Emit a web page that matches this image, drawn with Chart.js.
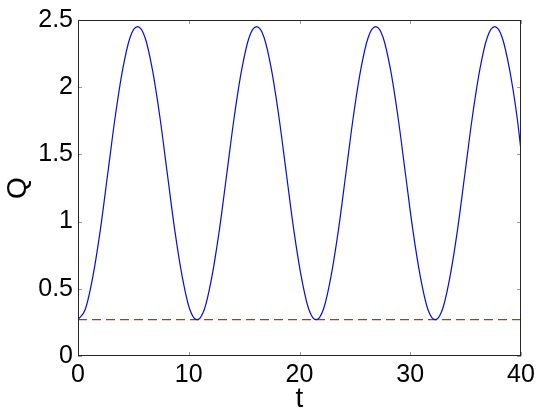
<!DOCTYPE html>
<html>
<head>
<meta charset="utf-8">
<script src="https://cdn.jsdelivr.net/npm/chart.js@4.4.1/dist/chart.umd.min.js"></script>
<style>
  html, body { margin: 0; padding: 0; background: #fff; }
  #wrap { width: 539px; height: 418px; }
</style>
</head>
<body>
<div id="wrap"><canvas id="qChart" width="539" height="418"></canvas></div>
<script>
// values
const tVals = [0, 0.67, 1.34, 2.02, 2.69, 3.36, 4.03, 4.70, 5.38, 6.05, 6.72, 7.39, 8.06, 8.73, 9.41, 10.08,
  10.75, 11.42, 12.09, 12.77, 13.44, 14.11, 14.78, 15.45, 16.13, 16.80, 17.47, 18.14, 18.81, 19.48, 20.16, 20.83,
  21.50, 22.17, 22.84, 23.52, 24.19, 24.86, 25.53, 26.20, 26.88, 27.55, 28.22, 28.89, 29.56, 30.23, 30.91, 31.58,
  32.25, 32.92, 33.59, 34.27, 34.94, 35.61, 36.28, 36.95, 37.63, 38.30, 38.97, 39.64, 40.00];
const qVals = [0.27, 0.35, 0.59, 0.94, 1.36, 1.78, 2.13, 2.37, 2.45, 2.37, 2.13, 1.78, 1.36, 0.94, 0.59, 0.35,
  0.27, 0.35, 0.59, 0.94, 1.36, 1.78, 2.13, 2.37, 2.45, 2.37, 2.13, 1.78, 1.36, 0.94, 0.59, 0.35,
  0.27, 0.35, 0.59, 0.94, 1.36, 1.78, 2.13, 2.37, 2.45, 2.37, 2.13, 1.78, 1.36, 0.94, 0.59, 0.35,
  0.27, 0.35, 0.59, 0.94, 1.36, 1.78, 2.13, 2.37, 2.45, 2.37, 2.13, 1.78, 1.53];
const baseT = [0, 40];
const baseQ = [0.27, 0.27];
const xTicks = [0, 10, 20, 30, 40];
const yTicks = [0, 0.5, 1, 1.5, 2, 2.5];

const tickFont = { family: '"Liberation Sans", Arial, sans-serif', size: 25 };
const titleFont = { family: '"Liberation Sans", Arial, sans-serif', size: 28 };

// box around the axes plus short inward tick marks
const framePlugin = {
  id: 'frame',
  afterDraw(chart) {
    const { ctx, chartArea: a, scales: { x, y } } = chart;
    ctx.save();
    ctx.lineWidth = 1;
    ctx.strokeStyle = '#9a9a9a';
    ctx.beginPath();
    xTicks.forEach(v => {
      const px = Math.round(x.getPixelForValue(v)) + 0.5;
      ctx.moveTo(px, a.bottom); ctx.lineTo(px, a.bottom - 4);
      ctx.moveTo(px, a.top); ctx.lineTo(px, a.top + 4);
    });
    yTicks.forEach(v => {
      const py = Math.round(y.getPixelForValue(v)) + 0.5;
      ctx.moveTo(a.left, py); ctx.lineTo(a.left + 4, py);
      ctx.moveTo(a.right, py); ctx.lineTo(a.right - 4, py);
    });
    ctx.stroke();
    ctx.strokeStyle = '#262626';
    ctx.strokeRect(Math.round(a.left) + 0.5, Math.round(a.top) + 0.5, Math.round(a.width) - 1, Math.round(a.height) - 1);
    ctx.restore();
  }
};

new Chart(document.getElementById('qChart'), {
  type: 'line',
  data: {
    datasets: [
      {
        data: tVals.map((t, i) => ({ x: t, y: qVals[i] })),
        borderColor: '#0a0adc',
        borderWidth: 1.2,
        pointRadius: 0,
        cubicInterpolationMode: 'monotone',
        fill: false
      },
      {
        data: baseT.map((t, i) => ({ x: t, y: baseQ[i] })),
        borderColor: '#b8302c',
        borderWidth: 1.2,
        borderDash: [9, 5],
        pointRadius: 0,
        fill: false
      }
    ]
  },
  options: {
    responsive: false,
    animation: false,
    devicePixelRatio: 1,
    layout: { padding: { top: 17, right: 18, left: 0, bottom: 0 } },
    plugins: { legend: { display: false }, tooltip: { enabled: false } },
    scales: {
      x: {
        type: 'linear',
        min: 0,
        max: 40,
        afterFit: s => { s.height = 62; },
        afterBuildTicks: s => { s.ticks = xTicks.map(v => ({ value: v })); },
        grid: { display: false, drawTicks: false },
        border: { display: false },
        ticks: { color: '#000', font: tickFont, padding: 4, maxRotation: 0, callback: v => String(v) },
        title: { display: true, text: 't', color: '#000', font: titleFont, padding: { top: 0, bottom: 2 } }
      },
      y: {
        type: 'linear',
        min: 0,
        max: 2.5,
        afterFit: s => { s.width = 78; },
        afterBuildTicks: s => { s.ticks = yTicks.map(v => ({ value: v })); },
        grid: { display: false, drawTicks: false },
        border: { display: false },
        ticks: { color: '#000', font: tickFont, padding: 5, callback: v => String(v) },
        title: { display: true, text: 'Q', color: '#000', font: titleFont, padding: { top: 1, bottom: 0 } }
      }
    }
  },
  plugins: [framePlugin]
});
</script>
</body>
</html>
